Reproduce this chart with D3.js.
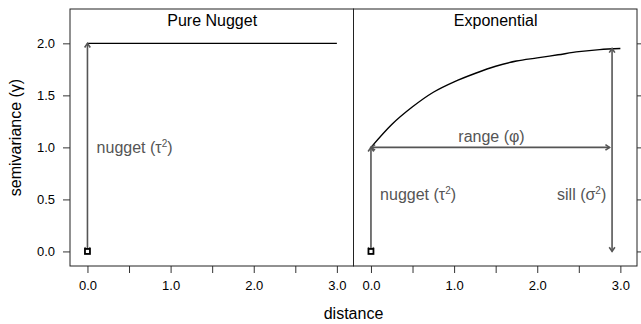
<!DOCTYPE html>
<html>
<head>
<meta charset="UTF-8">
<title>Variogram models</title>
<script src="https://cdn.jsdelivr.net/npm/d3@7/dist/d3.min.js"></script>
<style>
  body { margin: 0; background: #fff; }
  text { font-family: "Liberation Sans", Arial, Helvetica, sans-serif; }
</style>
</head>
<body>
<svg id="chart" width="641" height="324"></svg>
<script>
// panels and axis ticks
var panels = ["Pure Nugget", "Exponential"];
var xTicks = [0, 0.5, 1, 1.5, 2, 2.5, 3];
var xTickLabels = ["0.0", "", "1.0", "", "2.0", "", "3.0"];
var yTicks = [0, 0.5, 1, 1.5, 2];
var yTickLabels = ["0.0", "0.5", "1.0", "1.5", "2.0"];

// pure nugget model (flat line at the sill)
var nuggetX = [0, 3];
var nuggetY = [2, 2];

// exponential model
var expX = [0, 0.25, 0.5, 0.75, 1, 1.25, 1.5, 1.75, 2, 2.25, 2.5, 2.75, 3];
var expY = [1.00, 1.22, 1.39, 1.53, 1.63, 1.71, 1.78, 1.83, 1.86, 1.89, 1.92, 1.94, 1.95];

// annotation arrows per panel: [x1, y1, x2, y2]
var arrows0 = [[0, 0, 0, 2]];
var arrows1 = [[0, 0, 0, 1], [0, 1, 2.87, 1], [2.9, 0, 2.9, 1.95]];

// annotation labels: [x, y, text, anchor]
var labels0 = [[0.11, 1.0, "nugget (τ", "start"]];
var labels1 = [[0.11, 0.55, "nugget (τ", "start"], [2.83, 0.55, "sill (σ", "end"], [1.45, 1.1, "range (φ)", "middle"]];

// the point at the origin
var originX = [0];
var originY = [0];

var svg = d3.select("#chart");
var grey = "#555";

// layout
var plotTop = 9, plotBottom = 266, plotLeft = 70, panelW = 283.5;

var y = d3.scaleLinear().domain([-0.14, 2.33]).range([plotBottom, plotTop]);

function arrowHead(g, x1, y1, x2, y2) {
    // chevron at (x2, y2) pointing away from (x1, y1)
    var a = Math.atan2(y2 - y1, x2 - x1);
    var len = 5, spread = 0.6;
    var p1 = [x2 - len * Math.cos(a - spread), y2 - len * Math.sin(a - spread)];
    var p2 = [x2 - len * Math.cos(a + spread), y2 - len * Math.sin(a + spread)];
    g.append("path")
        .attr("d", "M" + p1 + "L" + [x2, y2] + "L" + p2)
        .attr("fill", "none")
        .attr("stroke", grey)
        .attr("stroke-width", 1.6);
}

function drawPanel(i) {
    var x0 = plotLeft + i * panelW;
    var x = d3.scaleLinear().domain([-0.21, 3.2]).range([x0, x0 + panelW]);
    var g = svg.append("g");

    // strip title
    g.append("text")
        .attr("x", x(1.5))
        .attr("y", 26)
        .attr("text-anchor", "middle")
        .attr("font-size", 16)
        .text(panels[i]);

    // model line
    var line = d3.line().x(function(d) { return x(d[0]); }).y(function(d) { return y(d[1]); });
    var pts;
    if (i == 0) {
        pts = d3.zip(nuggetX, nuggetY);
        g.append("path").attr("d", line(pts)).attr("fill", "none")
            .attr("stroke", "#000").attr("stroke-width", 1.4);
    } else {
        pts = d3.zip(expX, expY);
        g.append("path").attr("d", line.curve(d3.curveMonotoneX)(pts)).attr("fill", "none")
            .attr("stroke", "#000").attr("stroke-width", 1.4);
    }

    // arrows
    var arrows = i == 0 ? arrows0 : arrows1;
    arrows.forEach(function(a) {
        var px1 = x(a[0]), py1 = y(a[1]), px2 = x(a[2]), py2 = y(a[3]);
        g.append("line")
            .attr("x1", px1).attr("y1", py1)
            .attr("x2", px2).attr("y2", py2)
            .attr("stroke", grey)
            .attr("stroke-width", 1.6);
        arrowHead(g, px1, py1, px2, py2);
        arrowHead(g, px2, py2, px1, py1);
    });

    // labels
    var labels = i == 0 ? labels0 : labels1;
    labels.forEach(function(l) {
        var t = g.append("text")
            .attr("x", x(l[0]))
            .attr("y", y(l[1]) + 5.5)
            .attr("text-anchor", l[3])
            .attr("font-size", 16)
            .attr("fill", grey);
        t.append("tspan").text(l[2]);
        if (l[2].indexOf("(φ)") < 0) {
            t.append("tspan").attr("dy", -6).attr("font-size", 10).text("2");
            t.append("tspan").attr("dy", 6).text(")");
        }
    });

    // point at origin
    d3.zip(originX, originY).forEach(function(p) {
        g.append("rect")
            .attr("x", x(p[0]) - 2.5)
            .attr("y", y(p[1]) - 2.5)
            .attr("width", 5)
            .attr("height", 5)
            .attr("fill", "#fff")
            .attr("stroke", "#000")
            .attr("stroke-width", 1.8);
    });

    // bottom axis
    var xAxis = d3.axisBottom(x)
        .tickValues(xTicks)
        .tickSize(7)
        .tickPadding(8)
        .tickFormat(function(d, j) { return xTickLabels[j]; });
    var ax = svg.append("g").attr("transform", "translate(0," + plotBottom + ")").call(xAxis);
    ax.select(".domain").remove();
    ax.selectAll("line").attr("stroke", "#333");
    ax.selectAll("text").attr("font-size", 13).attr("fill", "#000")
        .attr("font-family", "Liberation Sans, Arial, sans-serif");

    // panel border
    svg.append("rect")
        .attr("x", x0).attr("y", plotTop)
        .attr("width", panelW).attr("height", plotBottom - plotTop)
        .attr("fill", "none")
        .attr("stroke", "#222")
        .attr("stroke-width", 1);
}

drawPanel(0);
drawPanel(1);

// left y axis
var yAxisL = d3.axisLeft(y)
    .tickValues(yTicks)
    .tickSize(7)
    .tickPadding(8)
    .tickFormat(function(d, j) { return yTickLabels[j]; });
var yl = svg.append("g").attr("transform", "translate(" + plotLeft + ",0)").call(yAxisL);
yl.select(".domain").remove();
yl.selectAll("line").attr("stroke", "#333");
yl.selectAll("text").attr("font-size", 13).attr("fill", "#000")
    .attr("font-family", "Liberation Sans, Arial, sans-serif");

// right ticks (no labels)
var yAxisR = d3.axisRight(y).tickValues(yTicks).tickSize(6).tickFormat("");
var yr = svg.append("g").attr("transform", "translate(" + (plotLeft + 2 * panelW) + ",0)").call(yAxisR);
yr.select(".domain").remove();
yr.selectAll("line").attr("stroke", "#333");

// axis titles
svg.append("text")
    .attr("x", plotLeft + panelW)
    .attr("y", 319)
    .attr("text-anchor", "middle")
    .attr("font-size", 16)
    .text("distance");

svg.append("text")
    .attr("transform", "translate(21," + ((plotTop + plotBottom) / 2) + ") rotate(-90)")
    .attr("text-anchor", "middle")
    .attr("font-size", 16)
    .text("semivariance (γ)");
</script>
</body>
</html>
